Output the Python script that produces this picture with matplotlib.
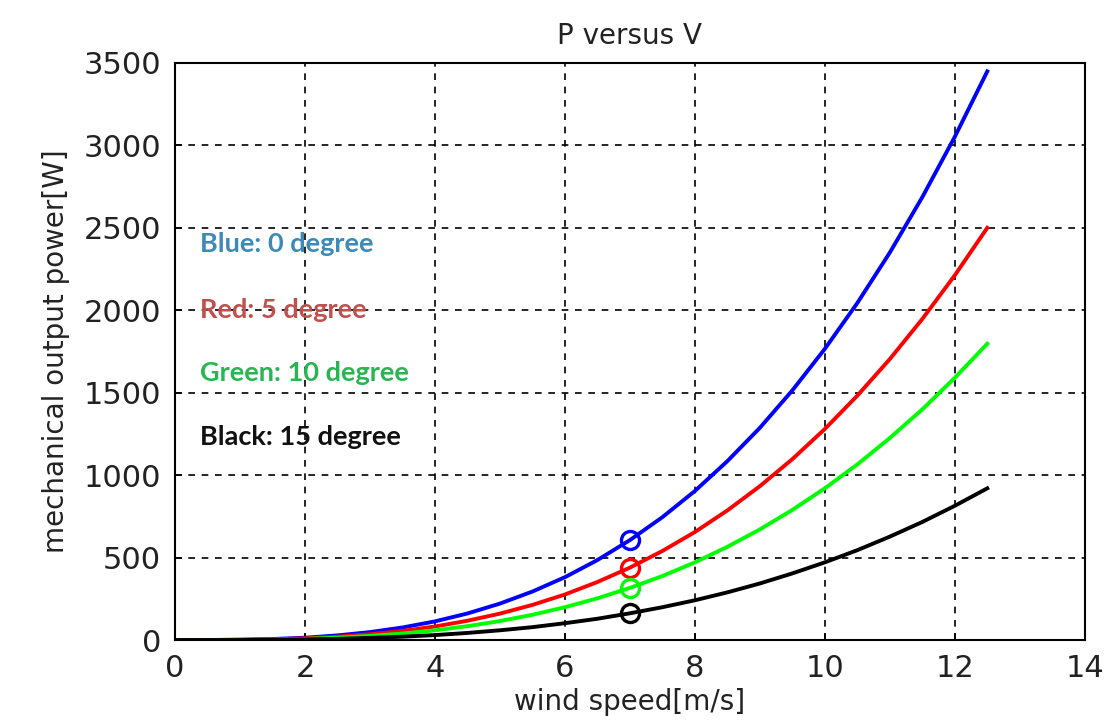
import matplotlib
matplotlib.use("Agg")
import matplotlib.pyplot as plt

# wind speed [m/s] and mechanical output power [W] for each pitch angle
speed = [0, 0.5, 1, 1.5, 2, 2.5, 3, 3.5, 4, 4.5, 5, 5.5, 6, 6.5, 7, 7.5,
         8, 8.5, 9, 9.5, 10, 10.5, 11, 11.5, 12, 12.5]
p_blue = [0, 0, 2, 6, 14, 28, 48, 76, 113, 161, 221, 294, 381, 485, 606, 745,
          904, 1085, 1287, 1514, 1766, 2044, 2350, 2686, 3052, 3449]
p_red = [0, 0, 1, 4, 10, 20, 35, 55, 82, 117, 160, 213, 276, 352, 439, 540,
         655, 786, 933, 1097, 1280, 1482, 1704, 1947, 2212, 2500]
p_green = [0, 0, 1, 3, 7, 14, 25, 39, 59, 84, 115, 153, 199, 253, 316, 388,
           471, 565, 671, 789, 920, 1065, 1225, 1399, 1590, 1797]
p_black = [0, 0, 0, 2, 4, 7, 13, 20, 30, 43, 59, 78, 102, 129, 162, 199,
           241, 289, 343, 404, 471, 545, 627, 716, 814, 920]

# operating point at 7 m/s
v_op = 7
op_blue, op_red, op_green, op_black = 606, 439, 316, 162

labels = ["Blue: 0 degree", "Red: 5 degree", "Green: 10 degree", "Black: 15 degree"]
label_y = [2400, 2000, 1620, 1230]
label_colors = ["#3c8ab8", "#c0504d", "#2ab552", "#111111"]

fig = plt.figure(figsize=(11.08, 7.24), dpi=100)
ax = fig.add_axes([0.158, 0.116, 0.821, 0.797])

series = [(p_blue, op_blue, "#0000ff"), (p_red, op_red, "#ff0000"),
          (p_green, op_green, "#00ff00"), (p_black, op_black, "#000000")]
for p, op, c in series:
    ax.plot(speed, p, color=c, lw=2.8)
    ax.plot([v_op], [op], marker="o", color=c, fillstyle="none",
            markersize=13, mew=2.4)

for txt, y, c in zip(labels, label_y, label_colors):
    ax.text(0.38, y, txt, color=c, fontsize=19.5, fontweight="bold",
            family="Lato", va="center", ha="left")

ax.set_xlim(0, 14)
ax.set_ylim(0, 3500)
ax.set_xticks(range(0, 15, 2))
ax.set_yticks(range(0, 3501, 500))
ax.grid(True, color="black", linestyle=(0, (4, 4)), lw=1.2)
ax.tick_params(direction="in", labelsize=22, length=5, width=1.2, pad=10,
               labelcolor="#222222")
for s in ax.spines.values():
    s.set_linewidth(1.5)

ax.set_title("P versus V", fontsize=20, pad=14, color="#222222")
ax.set_xlabel("wind speed[m/s]", fontsize=20, labelpad=4, color="#222222")
ax.set_ylabel("mechanical output power[W]", fontsize=20, labelpad=10,
              color="#222222")

fig.savefig("out.png", dpi=100)
